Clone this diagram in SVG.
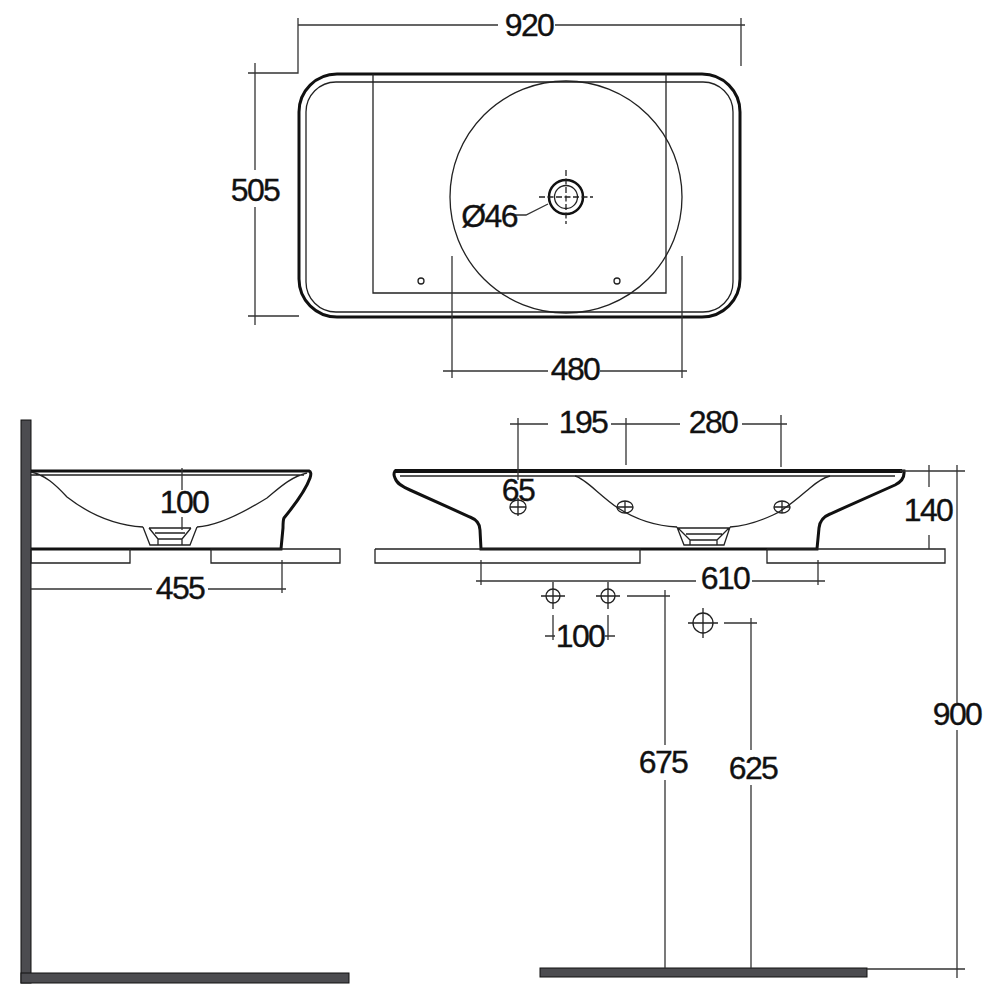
<svg xmlns="http://www.w3.org/2000/svg" width="1000" height="1000" viewBox="0 0 1000 1000">
<style>
.t{font-family:"Liberation Sans",Arial,sans-serif;font-size:32px;letter-spacing:-1.6px;fill:#111;stroke:#111;stroke-width:.35;text-anchor:middle}
.o{fill:none;stroke:#111;stroke-width:3}
.m{fill:none;stroke:#222;stroke-width:1.3}
.d{fill:none;stroke:#333;stroke-width:1.3}
.c{stroke-dasharray:6 2.5}
.w{fill:#4c4c50;stroke:#111;stroke-width:1}
</style>
<rect width="1000" height="1000" fill="#fff"/>
<g id="top-view">
<rect class="o" x="299" y="74" width="441" height="243" rx="38"/>
<rect class="m" x="306" y="82" width="427" height="230" rx="30"/>
<path class="m" d="M373 74V293H666V74"/>
<circle class="m" cx="566" cy="197" r="116"/>
<circle cx="566" cy="197" r="17" fill="none" stroke="#111" stroke-width="2.5"/>
<circle class="m" cx="566" cy="197" r="11.5"/>
<path class="m c" d="M539 197H593M566 170V224"/>
<circle class="m" cx="421" cy="281" r="3"/>
<circle class="m" cx="617" cy="281" r="3"/>
</g>
<g id="side-view">
<rect class="w" x="21" y="420" width="10" height="563"/>
<rect class="w" x="21" y="973" width="328" height="10"/>
<path class="o" d="M31 471H309Q312 472 310 478C305 492 293 507 284 518Q283 520 283 528L281 549H31"/>
<path class="m" d="M31 472C45 475 55 484 67 497C85 511 110 525 143 527M197 527C215 526 238 516 267 498C278 489 290 477 307 473M31 475H304"/>
<path class="m" d="M143 527L150 545H190L197 527M149 528H191M155 533H185M158 539H182M158 539V545M182 539V545M149 528L158 539M191 528L182 539"/>
<path class="m" d="M31 549V563H130V549M211 549V563H340V549Z"/>
</g>
<g id="front-view">
<rect class="w" x="540" y="968" width="327" height="9"/>
<path class="o" d="M904 471H395Q393 474 395 478C397 484 403 487 410 490L470 517Q480 521 480 530L481 549H817L819 528Q820 518 830 514L895 485Q905 480 904 471Z"/>
<path fill="none" stroke="#111" stroke-width="4" d="M395 471H902"/>
<path class="m" d="M400 476H895"/>
<path class="m" d="M575 476C585 478 600 496 618 508C635 519 655 526 677 527M730 527C745 526 760 521 773 515C785 510 797 499 810 488C817 482 822 478 830 476"/>
<path class="m" d="M677 527L684 545H724L730 527M678 528H729M686 534H722M690 540H717M690 540V545M717 540V545M678 528L690 540M729 528L717 540"/>
<path class="m" d="M375 549V563H640V549H375M767 549V563H945V549H767"/>
<ellipse class="m" cx="518" cy="507" rx="8" ry="7"/>
<ellipse class="m" cx="625" cy="507" rx="8" ry="6"/>
<ellipse class="m" cx="782" cy="507" rx="8" ry="6"/>
<path class="m" d="M510 507H526M518 498V516M617 507H633M625 501V513M774 507H790M782 501V513"/>
<circle class="m" cx="553" cy="596" r="7"/>
<circle class="m" cx="608" cy="596" r="7"/>
<circle class="m" cx="703" cy="623" r="10"/>
<path class="m" d="M541 596H565M553 582V609M596 596H620M608 582V609M688 623H718M703 608V638"/>
</g>
<g id="connectors">
<path class="d" d="M298 25H498M555 25H745M298 18V73H248M741 18V66M255 63V170M255 207V325M248 316H299"/>
<path class="d" d="M452 256V378M682 256V378M443 371H548M600 371H687"/>
<path class="d" d="M515 215H526L548 204"/>
<path class="d" d="M182 468V490M182 517V530M31 589H152M208 589H286M282 560V593"/>
<path class="d" d="M510 424H548M611 424H680M518 418V480M626 418V465M742 424H787M781 415V467"/>
<path class="d" d="M476 581H696M752 581H825M481 560V585M818 560V585"/>
<path class="d" d="M553 615V640M608 615V640M545 636H555M605 636H615"/>
<path class="d" d="M627 596H670M665 590V745M665 780V968M724 623H757M751 618V750M751 785V968"/>
<path class="d" d="M900 471H965M929 465V487M929 535V549M957 465V703M957 730V978M867 969H965"/>
</g>
<g id="labels">
<text class="t" x="529" y="36">920</text>
<text class="t" x="255" y="201">505</text>
<text class="t" x="489" y="227">Ø46</text>
<text class="t" x="575" y="380">480</text>
<text class="t" x="184" y="513">100</text>
<text class="t" x="180" y="599">455</text>
<text class="t" x="583" y="433">195</text>
<text class="t" x="713" y="433">280</text>
<text class="t" x="518" y="501">65</text>
<text class="t" x="725" y="589">610</text>
<text class="t" x="580" y="647">100</text>
<text class="t" x="663" y="773">675</text>
<text class="t" x="753" y="779">625</text>
<text class="t" x="928" y="521">140</text>
<text class="t" x="957" y="725">900</text>
</g>
</svg>
